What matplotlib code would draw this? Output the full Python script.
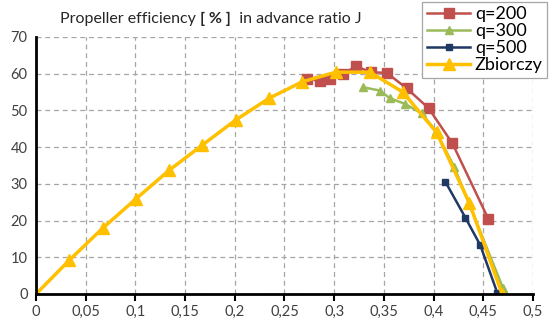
import matplotlib.pyplot as plt
from matplotlib.ticker import FuncFormatter

plt.rcParams['font.family'] = ['Lato', 'DejaVu Sans']

# q=200
j_200 = [0.273, 0.286, 0.296, 0.309, 0.322, 0.337, 0.353, 0.373, 0.395, 0.419, 0.455]
eta_200 = [58.6, 58.0, 58.5, 60.0, 62.0, 60.4, 60.2, 56.0, 50.6, 41.0, 20.5]

# q=300
j_300 = [0.329, 0.346, 0.356, 0.371, 0.388, 0.402, 0.421, 0.470]
eta_300 = [56.3, 55.4, 53.3, 51.8, 49.2, 44.5, 34.5, 1.5]

# q=500
j_500 = [0.412, 0.432, 0.447, 0.464]
eta_500 = [30.5, 20.8, 13.3, 0.4]

# zbiorczy (combined)
j_all = [0, 0.0335, 0.067, 0.1005, 0.134, 0.1675, 0.201, 0.2345, 0.268,
         0.3015, 0.336, 0.369, 0.403, 0.436, 0.469]
eta_all = [0, 9.2, 17.9, 25.9, 33.7, 40.6, 47.4, 53.3, 57.8,
           60.4, 60.4, 55.0, 44.0, 24.8, 0]

x_ticks = [0, 0.05, 0.1, 0.15, 0.2, 0.25, 0.3, 0.35, 0.4, 0.45, 0.5]
y_ticks = [0, 10, 20, 30, 40, 50, 60, 70]

fig = plt.figure(figsize=(5.5, 3.24), dpi=100)
ax = fig.add_axes([0.0655, 0.0926, 0.9035, 0.7934])

ax.plot(j_200, eta_200, '-s', color='#C0504D', lw=1.8, ms=6.5, label='q=200', zorder=3)
ax.plot(j_300, eta_300, '-^', color='#9BBB59', lw=1.8, ms=6, label='q=300', zorder=3)
ax.plot(j_500, eta_500, '-s', color='#1F3864', lw=1.8, ms=5, label='q=500', zorder=4)
ax.plot(j_all, eta_all, '-^', color='#FFC000', lw=2.5, ms=8, label='Zbiorczy', zorder=5)

ax.set_xlim(0, 0.5)
ax.set_ylim(0, 70)
ax.set_xticks(x_ticks)
ax.set_yticks(y_ticks)
ax.xaxis.set_major_formatter(FuncFormatter(lambda v, p: ('%g' % v).replace('.', ',')))
ax.grid(True, ls=(0, (4, 3)), color='#A6A6A6', lw=0.9)
ax.set_axisbelow(True)

for s in ['top', 'right']:
    ax.spines[s].set_visible(False)
for s in ['left', 'bottom']:
    ax.spines[s].set_linewidth(2)
    ax.spines[s].set_color('black')
    ax.spines[s].set_zorder(6)
ax.tick_params(axis='x', direction='out', length=5, width=1.5, labelsize=10.5, colors='black', pad=3)
ax.tick_params(axis='y', direction='out', length=0, labelsize=10.5, colors='black', pad=6)
for lbl in ax.get_xticklabels() + ax.get_yticklabels():
    lbl.set_color('#404040')

# title in three pieces, middle one bold
fig.canvas.draw()
r = fig.canvas.get_renderer()
x = 60 / 550
parts = [('Propeller efficiency ', 'normal'), ('[ % ]', 'bold'), ('  in advance ratio J', 'normal')]
for txt, w in parts:
    t = fig.text(x, 1 - 23 / 324, txt, fontsize=11.5, color='#262626', ha='left',
                 va='baseline', fontweight=w)
    bb = t.get_window_extent(r)
    x = bb.x1 / fig.bbox.width

leg = ax.legend(loc='upper right', bbox_to_anchor=(549 / 550, 1.0),
                bbox_transform=fig.transFigure, fontsize=13,
                frameon=True, fancybox=False, edgecolor='#A6A6A6', framealpha=1,
                handlelength=2.4, handletextpad=0.25, borderpad=0.25, labelspacing=0.05,
                borderaxespad=0.1)
leg.get_frame().set_linewidth(0.9)
leg.set_zorder(10)

fig.savefig('out.png', dpi=100)
